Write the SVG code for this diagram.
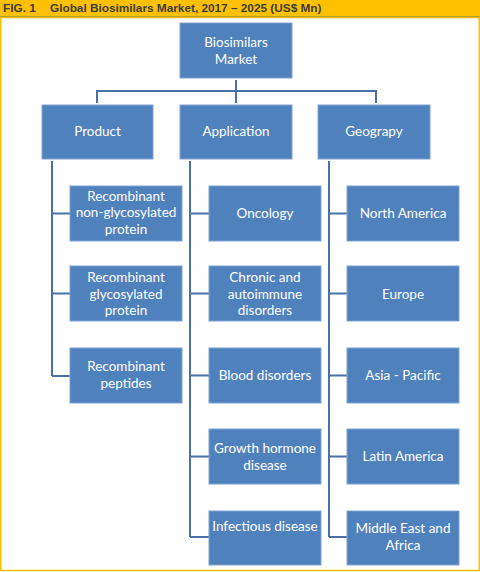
<svg xmlns="http://www.w3.org/2000/svg" width="480" height="572" viewBox="0 0 480 572">
<style>
.box{fill:#4f81bd;stroke:#7ea3d3;stroke-width:1}
.t{font-family:Lato,"Open Sans",sans-serif;font-size:13.5px;fill:#ffffff;text-anchor:middle}
.ln{stroke:#4a70a8;stroke-width:2;fill:none}
.hd{font-family:"Liberation Sans",Arial,sans-serif;font-size:11.8px;font-weight:bold;fill:#3c3c3c}
</style>
<rect x="0" y="0" width="480" height="572" fill="#ffffff"/>
<rect x="0" y="0" width="480" height="17" fill="#ffc000"/>
<line x1="0" y1="17" x2="480" y2="17" stroke="#5b6478" stroke-width="1.2"/>
<rect x="0.75" y="17.5" width="478.5" height="553" fill="none" stroke="#ffc000" stroke-width="1.5"/>
<text class="hd" x="3" y="12">FIG. 1</text>
<text class="hd" x="50" y="12">Global Biosimilars Market, 2017 – 2025 (US$ Mn)</text>
<g id="connectors">
<path class="ln" d="M236 80 V91 M97 103 V91 H376 V103 M236 91 V103"/>
<path class="ln" d="M52 161 V376 M52 213.5 H70 M52 293.5 H70 M52 376 H70"/>
<path class="ln" d="M190 161 V537 M190 213.5 H209 M190 293.5 H209 M190 375.5 H209 M190 456.5 H209 M190 537 H209"/>
<path class="ln" d="M329 161 V537 M329 213.5 H347 M329 293.5 H347 M329 375.5 H347 M329 456.5 H347 M329 537 H347"/>
</g>
<g id="root"><rect class="box" x="180" y="23" width="112" height="55"/><text class="t" x="236" y="47">Biosimilars</text><text class="t" x="236" y="63.5">Market</text></g>
<g id="product"><rect class="box" x="42" y="105" width="111" height="54"/><text class="t" x="97.5" y="136">Product</text></g>
<g id="application"><rect class="box" x="180" y="105" width="112" height="54"/><text class="t" x="236" y="136">Application</text></g>
<g id="geography"><rect class="box" x="318" y="105" width="112" height="54"/><text class="t" x="374" y="136">Geograpy</text></g>
<g id="p1"><rect class="box" x="70" y="186" width="112" height="55"/><text class="t" x="126" y="200.5">Recombinant</text><text class="t" x="126" y="217">non-glycosylated</text><text class="t" x="126" y="233.5">protein</text></g>
<g id="p2"><rect class="box" x="70" y="266" width="112" height="55"/><text class="t" x="126" y="282">Recombinant</text><text class="t" x="126" y="298.5">glycosylated</text><text class="t" x="126" y="315">protein</text></g>
<g id="p3"><rect class="box" x="70" y="348" width="112" height="55"/><text class="t" x="126" y="371">Recombinant</text><text class="t" x="126" y="387.5">peptides</text></g>
<g id="a1"><rect class="box" x="209" y="186" width="112" height="55"/><text class="t" x="265" y="218">Oncology</text></g>
<g id="a2"><rect class="box" x="209" y="266" width="112" height="55"/><text class="t" x="265" y="282">Chronic and</text><text class="t" x="265" y="298.5">autoimmune</text><text class="t" x="265" y="315">disorders</text></g>
<g id="a3"><rect class="box" x="209" y="348" width="112" height="55"/><text class="t" x="265" y="380">Blood disorders</text></g>
<g id="a4"><rect class="box" x="209" y="429" width="112" height="55"/><text class="t" x="265" y="453">Growth hormone</text><text class="t" x="265" y="469.5">disease</text></g>
<g id="a5"><rect class="box" x="209" y="511" width="112" height="54"/><text class="t" x="265" y="531">Infectious disease</text></g>
<g id="g1"><rect class="box" x="347" y="186" width="112" height="55"/><text class="t" x="403" y="218">North America</text></g>
<g id="g2"><rect class="box" x="347" y="266" width="112" height="55"/><text class="t" x="403" y="299">Europe</text></g>
<g id="g3"><rect class="box" x="347" y="348" width="112" height="55"/><text class="t" x="403" y="380">Asia - Pacific</text></g>
<g id="g4"><rect class="box" x="347" y="429" width="112" height="55"/><text class="t" x="403" y="461">Latin America</text></g>
<g id="g5"><rect class="box" x="347" y="511" width="112" height="54"/><text class="t" x="403" y="533">Middle East and</text><text class="t" x="403" y="549.5">Africa</text></g>
</svg>
